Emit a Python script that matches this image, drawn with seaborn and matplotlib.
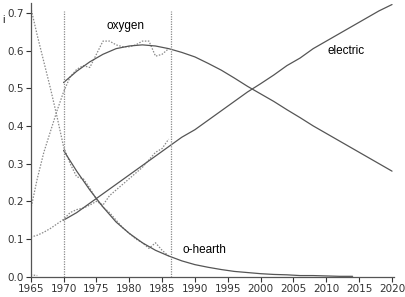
import matplotlib
matplotlib.use("Agg")
import matplotlib.pyplot as plt
import seaborn as sns
import pandas as pd

# historical data (dotted)
hist_years = list(range(1965, 1987))
ohearth_hist = [0.715, 0.64, 0.57, 0.50, 0.425, 0.345, 0.30, 0.265, 0.26, 0.235, 0.205,
                0.185, 0.17, 0.15, 0.13, 0.115, 0.10, 0.09, 0.075, 0.09, 0.07, 0.055]
oxygen_hist = [0.178, 0.26, 0.33, 0.385, 0.44, 0.49, 0.53, 0.55, 0.56, 0.555, 0.59,
               0.625, 0.625, 0.615, 0.61, 0.61, 0.615, 0.625, 0.625, 0.585, 0.59, 0.605]
electric_hist = [0.105, 0.11, 0.118, 0.128, 0.14, 0.152, 0.17, 0.178, 0.182, 0.19, 0.2,
                 0.19, 0.215, 0.23, 0.245, 0.26, 0.275, 0.29, 0.31, 0.33, 0.34, 0.365]
other_years = [1965, 1966]
other_hist = [0.005, 0.003]

# fitted curves (solid)
fit_years = list(range(1970, 2021, 2))
oxygen_fit = [0.515, 0.545, 0.57, 0.59, 0.605, 0.612, 0.615, 0.612, 0.605, 0.595, 0.583,
              0.566, 0.548, 0.527, 0.505, 0.485, 0.465, 0.443, 0.422, 0.40, 0.38,
              0.36, 0.34, 0.32, 0.30, 0.28]
electric_fit = [0.15, 0.17, 0.195, 0.22, 0.245, 0.27, 0.295, 0.32, 0.345, 0.37, 0.39,
                0.415, 0.44, 0.465, 0.49, 0.512, 0.535, 0.56, 0.58, 0.605, 0.625,
                0.645, 0.665, 0.685, 0.705, 0.722]
ohearth_years = list(range(1970, 2015, 2))
ohearth_fit = [0.335, 0.28, 0.23, 0.185, 0.145, 0.115, 0.09, 0.07, 0.055, 0.042, 0.032,
               0.025, 0.019, 0.014, 0.011, 0.008, 0.006, 0.005, 0.003, 0.003, 0.002,
               0.001, 0.001]

vlines = [1970, 1986.3]
x_ticks = list(range(1965, 2021, 5))
y_ticks = [0.0, 0.1, 0.2, 0.3, 0.4, 0.5, 0.6, 0.7]
labels = {"oxygen": (1979.5, 0.665), "electric": (2013, 0.60), "o-hearth": (1991.5, 0.072)}

sns.set_theme(style="white")
plt.rcParams["font.family"] = ["DejaVu Sans"]

fig = plt.figure(figsize=(4.06, 2.97), dpi=100)
ax = fig.add_axes([30.7/406, 20.3/297, (394-30.7)/406, 273.3/297])

dot_kw = dict(color="#8a8a8a", linewidth=0.9, linestyle=(0, (1.2, 1.2)))
sol_kw = dict(color="#555555", linewidth=0.9)

for yrs, vals in [(hist_years, ohearth_hist), (hist_years, oxygen_hist),
                  (hist_years, electric_hist), (other_years, other_hist)]:
    sns.lineplot(x=yrs, y=vals, ax=ax, **dot_kw)
for yrs, vals in [(fit_years, oxygen_fit), (fit_years, electric_fit),
                  (ohearth_years, ohearth_fit)]:
    sns.lineplot(x=yrs, y=vals, ax=ax, **sol_kw)

for v in vlines:
    ax.plot([v, v], [0, 0.705], color="#8a8a8a", linewidth=0.9, linestyle=(0, (1, 1)))

for txt, (xx, yy) in labels.items():
    ax.text(xx, yy, txt, fontsize=8.5, family="Liberation Sans", ha="center", va="center",
            color="black")

ax.set_xlim(1965, 2020.3)
ax.set_ylim(0, 0.725)
ax.set_xticks(x_ticks)
ax.set_yticks(y_ticks)
ax.set_xticklabels([str(t) for t in x_ticks])
ax.set_yticklabels([f"{t:.1f}" for t in y_ticks])
ax.tick_params(axis="both", labelsize=7.5, colors="#333333", length=3.5, width=0.8,
               direction="out", pad=1.5, bottom=True, left=True)
for s in ["top", "right"]:
    ax.spines[s].set_visible(False)
for s in ["left", "bottom"]:
    ax.spines[s].set_color("#555555")
    ax.spines[s].set_linewidth(0.9)
ax.set_xlabel("")
ax.set_ylabel("")
fig.text(4/406, 1 - 20/297, "i", fontsize=8, family="Liberation Sans", ha="center", va="center")

fig.savefig("out.png", dpi=100)
